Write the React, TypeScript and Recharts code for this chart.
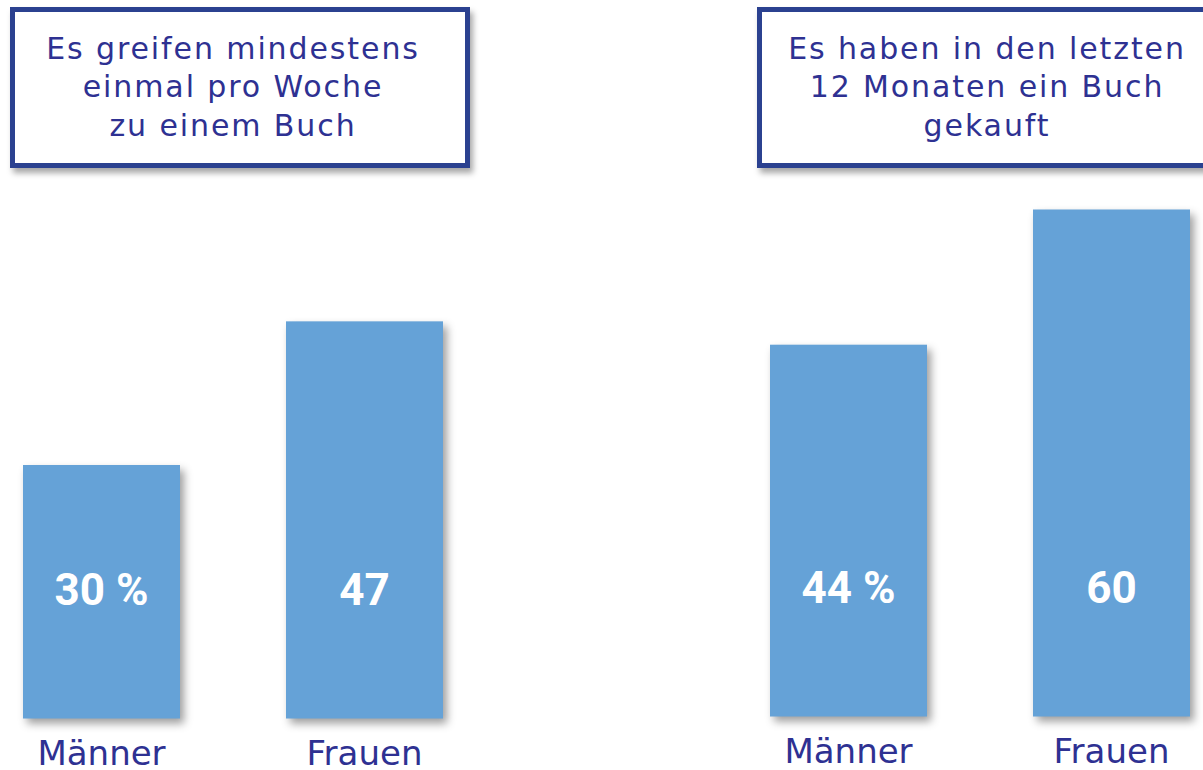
import React from 'react';
import { BarChart, Bar, XAxis, YAxis, LabelList } from 'recharts';

const categories = ['Männer', 'Frauen'];
const weeklyValues = [30, 47];
const boughtValues = [44, 60];
const weeklyLabels = ['30 %', '47'];
const boughtLabels = ['44 %', '60'];
const title1 = ['Es greifen mindestens', 'einmal pro Woche', 'zu einem Buch'];
const title2 = ['Es haben in den letzten', '12 Monaten ein Buch', 'gekauft'];
const yMax = 60;

const BAR_COLOR = '#65a2d7';
const TEXT_COLOR = '#2e3192';
const BORDER_COLOR = '#2b4190';

const buildData = (vals: number[], labels: string[]) =>
  categories.map((c, i) => ({ name: c, value: vals[i], label: labels[i] }));

const ShadowBar = (props: any) => {
  const { x, y, width, height } = props;
  return (
    <rect
      x={x}
      y={y}
      width={width}
      height={height}
      fill={BAR_COLOR}
      style={{ filter: 'drop-shadow(4px 5px 4px rgba(0,0,0,0.38))' }}
    />
  );
};

const ValueLabel = (props: any) => {
  const { x, y, width, height, value } = props;
  return (
    <text
      x={x + width / 2}
      y={y + height - 128.5}
      textAnchor="middle"
      dominantBaseline="central"
      fill="#ffffff"
      fontFamily="Roboto, sans-serif"
      fontWeight={700}
      fontSize={44}
    >
      {value}
    </text>
  );
};

const CatTick = (props: any) => {
  const { x, y, payload } = props;
  return (
    <text
      x={x}
      y={y + 46}
      textAnchor="middle"
      fill={TEXT_COLOR}
      fontFamily="'DejaVu Sans', sans-serif"
      fontSize={34}
    >
      {payload.value}
    </text>
  );
};

const Panel = ({ data, left, top }: { data: any[]; left: number; top: number }) => (
  <div style={{ position: 'absolute', left, top, width: 526, height: 770 }}>
    <BarChart
      width={526}
      height={770}
      data={data}
      margin={{ top: 211.5, right: 0, bottom: 0, left: 0 }}
    >
      <XAxis
        dataKey="name"
        axisLine={false}
        tickLine={false}
        tickSize={0}
        tickMargin={0}
        height={51.5}
        tick={<CatTick />}
        interval={0}
      />
      <YAxis hide domain={[0, yMax]} />
      <Bar dataKey="value" barSize={157} shape={<ShadowBar />} isAnimationActive={false}>
        <LabelList dataKey="label" content={<ValueLabel />} />
      </Bar>
    </BarChart>
  </div>
);

const TitleBox = ({ lines, left, padRight }: { lines: string[]; left: number; padRight: number }) => (
  <div
    style={{
      position: 'absolute',
      left,
      top: 7,
      width: 460,
      height: 161,
      boxSizing: 'border-box',
      border: `5px solid ${BORDER_COLOR}`,
      background: '#ffffff',
      boxShadow: '3px 5px 6px rgba(0,0,0,0.35)',
      paddingTop: 18,
      paddingRight: padRight,
      textAlign: 'center',
      fontFamily: "'DejaVu Sans', sans-serif",
      fontSize: 30,
      lineHeight: '38.4px',
      letterSpacing: 1.9,
      color: TEXT_COLOR,
    }}
  >
    {lines.map((l, i) => (
      <div key={i} style={{ whiteSpace: 'nowrap' }}>{l}</div>
    ))}
  </div>
);

export default function App() {
  const d1 = buildData(weeklyValues, weeklyLabels);
  const d2 = buildData(boughtValues, boughtLabels);
  return (
    <div
      style={{
        position: 'fixed',
        left: 0,
        top: 0,
        width: 1203,
        height: 770,
        overflow: 'hidden',
        background: '#ffffff',
      }}
    >
      <Panel data={d1} left={-30} top={0} />
      <Panel data={d2} left={717} top={-1.8} />
      <TitleBox lines={title1} left={10} padRight={14} />
      <TitleBox lines={title2} left={757} padRight={0} />
    </div>
  );
}
